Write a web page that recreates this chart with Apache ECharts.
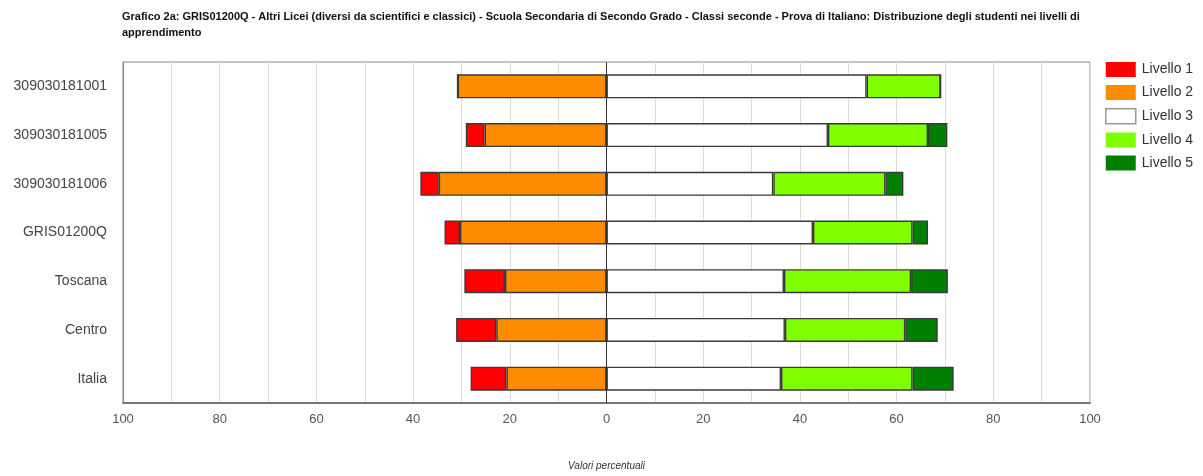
<!DOCTYPE html>
<html>
<head>
<meta charset="utf-8">
<script src="https://cdn.jsdelivr.net/npm/echarts@6/dist/echarts.min.js"></script>
<style>
html,body{margin:0;padding:0;background:#fff;}
#chart{width:1203px;height:476px;}
</style>
</head>
<body>
<div id="chart"></div>
<script>
const categories = ['309030181001','309030181005','309030181006','GRIS01200Q','Toscana','Centro','Italia'];
const livello1 = [0, 3.9, 3.8, 3.2, 8.4, 8.3, 7.4];
const livello2 = [30.8, 25.2, 34.7, 30.3, 21.0, 22.8, 20.7];
const livello3 = [53.8, 45.8, 34.5, 42.7, 36.7, 36.9, 36.1];
const livello4 = [15.3, 20.7, 23.2, 20.6, 26.3, 24.9, 27.2];
const livello5 = [0, 4.0, 3.7, 3.2, 7.6, 6.7, 8.5];
const xTicks = [-100,-80,-60,-40,-20,0,20,40,60,80,100];

const chart = echarts.init(document.getElementById('chart'));
const border = {borderColor:'#3a3a3a', borderWidth:1.4};
function ser(name, data, color, extra){
  return Object.assign({
    name: name, type:'bar', stack:'tot', data: data, barWidth: 24,
    itemStyle: Object.assign({color: color}, border),
    emphasis:{disabled:true}
  }, extra||{});
}
const option = {
  animation:false,
  title:{
    text:'Grafico 2a: GRIS01200Q - Altri Licei (diversi da scientifici e classici) - Scuola Secondaria di Secondo Grado - Classi seconde - Prova di Italiano: Distribuzione degli studenti nei livelli di\napprendimento',
    left:117, top:4,
    textStyle:{fontSize:11, fontWeight:'bold', color:'#111', fontFamily:'Liberation Sans', lineHeight:16}
  },
  legend:{
    orient:'vertical', left:1100, top:57, itemWidth:30, itemHeight:15, itemGap:8,
    icon:'rect',
    textStyle:{fontSize:14, color:'#333', fontFamily:'Liberation Sans', padding:[0,0,0,1]},
    data:[
      {name:'Livello 1', itemStyle:{borderWidth:0}},
      {name:'Livello 2', itemStyle:{borderWidth:0}},
      {name:'Livello 3', itemStyle:{borderColor:'#999', borderWidth:1.5}},
      {name:'Livello 4', itemStyle:{borderWidth:0}},
      {name:'Livello 5', itemStyle:{borderWidth:0}}
    ]
  },
  grid:{left:123, right:113, top:62, bottom:73, show:true, borderColor:'#888', borderWidth:1},
  xAxis:{
    type:'value', min:xTicks[0], max:xTicks[xTicks.length-1], interval:10,
    axisLine:{show:true, lineStyle:{color:'#777', width:2}},
    axisTick:{show:false},
    splitLine:{show:true, lineStyle:{color:'#dcdcdc', width:1}},
    axisLabel:{
      color:'#555', fontSize:13, fontFamily:'Liberation Sans', margin:10,
      formatter:function(v){ return xTicks.indexOf(v)>=0 ? String(Math.abs(v)) : ''; }
    },
    name:'Valori percentuali', nameLocation:'middle', nameGap:58,
    nameTextStyle:{fontSize:10, fontStyle:'italic', color:'#333', fontFamily:'Liberation Sans'}
  },
  yAxis:{
    type:'category', data:categories, inverse:true,
    axisLine:{show:true, onZero:false, lineStyle:{color:'#888'}},
    axisTick:{show:false},
    axisLabel:{color:'#444', fontSize:14, fontFamily:'Liberation Sans', margin:16}
  },
  series:[
    ser('Livello 2', livello2.map(v=>-v), '#ff8c00'),
    ser('Livello 1', livello1.map(v=>-v), '#ff0000'),
    ser('Livello 3', livello3, '#ffffff', {
      markLine:{silent:true, symbol:'none', label:{show:false},
        lineStyle:{color:'#333', width:1, type:'solid'}, data:[{xAxis:0}]}
    }),
    ser('Livello 4', livello4, '#80ff00'),
    ser('Livello 5', livello5, '#007f00')
  ]
};
chart.setOption(option);
</script>
</body>
</html>
